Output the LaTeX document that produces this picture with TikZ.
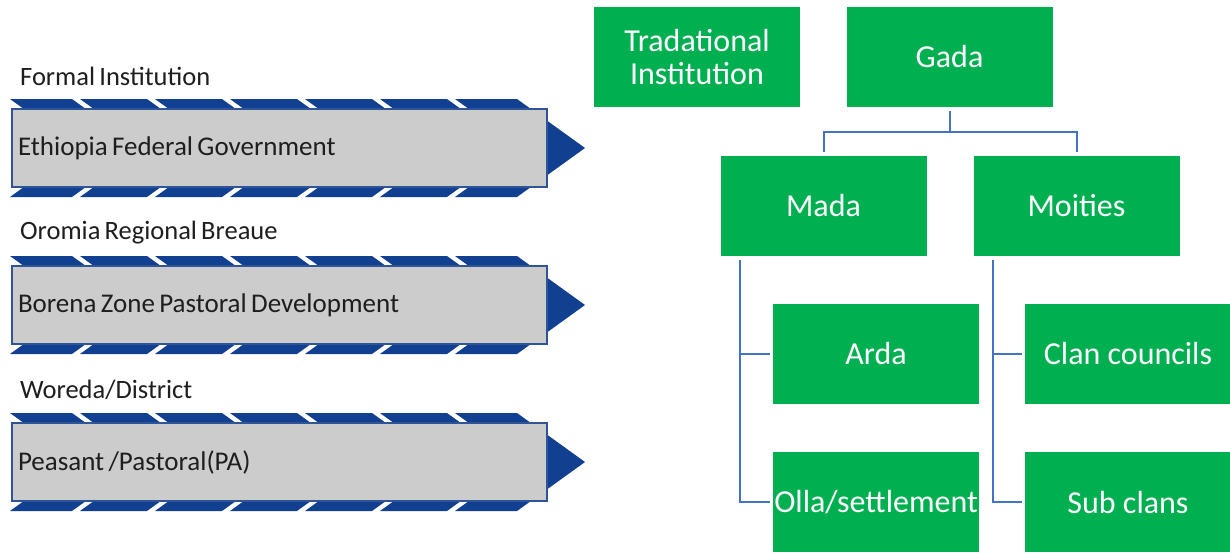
\documentclass[tikz,border=0pt]{standalone}
\usepackage{fontspec}
\setmainfont{Carlito}
\usetikzlibrary{calc}
\definecolor{chevblue}{RGB}{17,64,145}
\definecolor{rectedge}{RGB}{47,85,151}
\definecolor{boxgray}{RGB}{204,204,204}
\definecolor{gboxgreen}{RGB}{0,176,80}
\definecolor{connblue}{RGB}{68,114,196}
\definecolor{txtdark}{RGB}{30,30,30}
\newcommand\tightwords{\spaceskip=0.16em\relax}
\tikzset{
  gbox/.style={draw=none, fill=gboxgreen, minimum width=206pt, minimum height=100pt,
    inner sep=0pt, outer sep=0pt, text=white, align=center,
    font=\fontsize{32}{35}\selectfont},
  graybox/.style={draw=rectedge, line width=1.2pt, fill=boxgray, minimum width=535pt,
    minimum height=78pt, inner xsep=6pt, inner ysep=0pt, outer sep=0pt,
    text width=523pt, align=left, text=txtdark,
    font=\fontsize{27}{30}\selectfont},
  rowlabel/.style={anchor=west, inner sep=0pt, text=txtdark,
    font=\fontsize{26.5}{30}\selectfont},
  chev/.style={fill=chevblue, draw=none},
  conn/.style={draw=connblue, line width=2pt}
}
\begin{document}
\begin{tikzpicture}[x=1pt, y=-1pt]
\useasboundingbox (0,0) rectangle (1230,554);
\fill[white] (0,0) rectangle (1230,554);
% left column: chevron bands
\foreach \cy/\nm/\lab/\txt in {148/r1/{Formal Institution}/{Ethiopia Federal Government},
  305/r2/{Oromia Regional Breaue}/{Borena Zone Pastoral Development},
  462/r3/{Woreda/District}/{Peasant /Pastoral(PA)}}{
  \foreach \L/\R in {10/72,80/147,155/222,230/297,305/372,380/447,455/517}{
    \fill[chev] (\L,\cy-49) -- (\R,\cy-49) -- (\R+68,\cy) -- (\R,\cy+49)
      -- (\L,\cy+49) -- (\L+68,\cy) -- cycle;
  }
  \node[graybox] (\nm) at (279.5,\cy) {\tightwords\txt};
  \node[rowlabel] (\nm lab) at (20,\cy-72) {\tightwords\lab};
}
% right column: traditional institution tree
\node[gbox] (trad) at (697,57) {Tradational\\[-2pt]Institution};
\node[gbox] (gada) at (949.5,57) {Gada};
\node[gbox] (mada) at (823.5,206) {Mada};
\node[gbox] (moities) at (1076.5,206) {Moities};
\node[gbox] (arda) at (876,354) {Arda};
\node[gbox] (olla) at (876,502) {Olla/settlement};
\node[gbox] (clan) at (1128,354) {Clan councils};
\node[gbox] (sub) at (1128,502) {Sub clans};
% connectors
\coordinate (bus) at (949.5,132);
\draw[conn] ($(gada.south)+(0,4)$) -- (bus);
\draw[conn] ($(mada.north)+(0,-4)$) |- (bus) -| ($(moities.north)+(0,-4)$);
\coordinate (mspine) at ($(mada.south west)+(19,4)$);
\draw[conn] (mspine) |- ($(olla.west)+(-3,0)$);
\draw[conn] (mspine |- arda.west) -- ($(arda.west)+(-3,0)$);
\coordinate (tspine) at ($(moities.south west)+(19,4)$);
\draw[conn] (tspine) |- ($(sub.west)+(-3,0)$);
\draw[conn] (tspine |- clan.west) -- ($(clan.west)+(-3,0)$);
\end{tikzpicture}
\end{document}
